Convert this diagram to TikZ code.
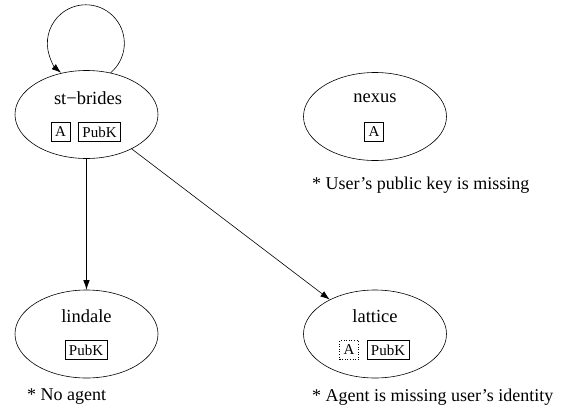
\documentclass[tikz,border=0pt]{standalone}
\usepackage{fontspec}
\setmainfont{Liberation Serif}
\usetikzlibrary{arrows.meta,shapes.geometric}
\tikzset{
  host/.style={draw, ellipse, minimum width=143pt, minimum height=88pt, inner sep=0pt, line width=0.6pt},
  hostlabel/.style={font=\fontsize{18.5}{21}\selectfont, inner sep=0pt},
  keybox/.style={draw, line width=0.6pt, font=\fontsize{15}{18}\selectfont, inner xsep=4pt, inner ysep=0pt, minimum height=19pt},
  missbox/.style={keybox, dotted},
  note/.style={font=\fontsize{18}{21}\selectfont, inner sep=0pt, anchor=west},
  edge/.style={line width=0.6pt, -{Latex[length=9.5pt,width=6.5pt]}}
}
\begin{document}
\begin{tikzpicture}[x=1pt,y=1pt]
\useasboundingbox (0,0) rectangle (564,-412);
% hosts
\node[host] (sb) at (86.5,-114.5) {};
\node[host] (nx) at (375,-116.5) {};
\node[host] (li) at (86.5,-334) {};
\node[host] (la) at (375,-334) {};
% labels
\node[hostlabel] (sbl) at (88,-98) {st−brides};
\node[hostlabel] (nxl) at (375,-98) {nexus};
\node[hostlabel] (lil) at (86.5,-316) {lindale};
\node[hostlabel] (lal) at (375,-316) {lattice};
% key boxes
\node[keybox] (sba) at (60.5,-132) {A};
\node[keybox] (sbp) at (99.5,-132) {PubK};
\node[keybox] (nxa) at (374,-132) {A};
\node[keybox] (lip) at (86,-350) {PubK};
\node[missbox] (laa) at (349,-350) {A};
\node[keybox] (lap) at (388,-350) {PubK};
% notes
\node[note] (nxn) at (312,-185) {* User’s public key is missing};
\node[note] (lin) at (27,-397) {* No agent};
\node[note] (lan) at (312,-397) {* Agent is missing user’s identity};
% edges
\draw[edge] (sb.60) arc[start angle=-50, end angle=230, radius=38.5];
\draw[edge] (sb) -- (li);
\draw[edge] (sb) -- (la);
\end{tikzpicture}
\end{document}
